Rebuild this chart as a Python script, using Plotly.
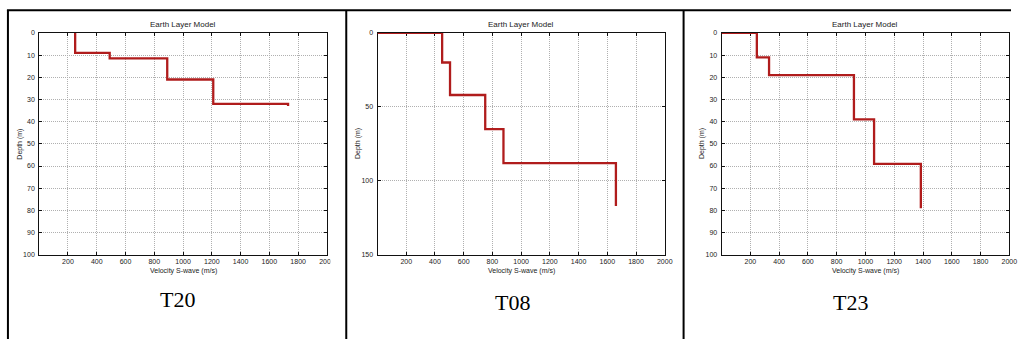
import plotly.graph_objects as go

W, H = 1019, 342

# ---- data ----
t20_velocity = [250, 490, 890, 1210, 1730]
t20_depth = [0, 9, 11.5, 21, 32, 33]
t08_velocity = [450, 505, 750, 877, 1660]
t08_depth = [0, 20, 42, 65, 88, 117]
t23_velocity = [245, 330, 920, 1060, 1385]
t23_depth = [0, 11, 19, 39, 59, 79]
panel_labels = ["T20", "T08", "T23"]
x_ticks = [200, 400, 600, 800, 1000, 1200, 1400, 1600, 1800, 2000]
y_ticks_100 = [0, 10, 20, 30, 40, 50, 60, 70, 80, 90, 100]
y_ticks_150 = [0, 50, 100, 150]


def step_path(vel, dep, start_zero):
    xs, ys = [], []
    if start_zero:
        xs.append(0); ys.append(dep[0])
    for i, v in enumerate(vel):
        xs += [v, v]
        ys += [dep[i], dep[i + 1]]
    return xs, ys


def px(x):
    return x / W


def py(y):
    return 1 - y / H


panels = [
    dict(vel=t20_velocity, dep=t20_depth, x0=39.5, x1=329.5, ymax=100, yt=y_ticks_100, z=False),
    dict(vel=t08_velocity, dep=t08_depth, x0=380.5, x1=670, ymax=150, yt=y_ticks_150, z=True),
    dict(vel=t23_velocity, dep=t23_depth, x0=727.3, x1=1017.3, ymax=100, yt=y_ticks_100, z=True),
]
top, bot = 29.5, 256
label_pos = [(179, 302), (517, 305), (857, 305)]

fig = go.Figure()
ann = []
shapes = []
tickfont = dict(family="Liberation Sans, Arial", size=7, color="#222")
for i, p in enumerate(panels):
    n = "" if i == 0 else str(i + 1)
    xs, ys = step_path(p["vel"], p["dep"], p["z"])
    fig.add_trace(go.Scatter(x=xs, y=ys, mode="lines", line=dict(color="#b01c1c", width=2.3),
                             xaxis="x" + n, yaxis="y" + n, showlegend=False, hoverinfo="skip",
                             cliponaxis=False))
    common = dict(showline=True, linecolor="#111", linewidth=1, mirror="allticks",
                  ticks="inside", ticklen=3, tickcolor="#111", showgrid=True,
                  gridcolor="#b0b0b0", griddash="1px,1px", gridwidth=1, zeroline=False,
                  tickfont=tickfont, layer="below traces")
    fig.update_layout(**{
        "xaxis" + n: dict(domain=[px(p["x0"]), px(p["x1"])], range=[0, 2000],
                          tickvals=x_ticks, anchor="y" + n, **common),
        "yaxis" + n: dict(domain=[py(bot), py(top)], range=[p["ymax"], 0],
                          tickvals=p["yt"], anchor="x" + n, ticklabelstandoff=2, **common),
    })
    cx = (p["x0"] + p["x1"]) / 2
    ann.append(dict(x=px(cx), y=py(21), xref="paper", yref="paper", text="Earth Layer Model",
                    showarrow=False, font=dict(family="Liberation Sans, Arial", size=8, color="#222"),
                    xanchor="center", yanchor="middle"))
    ann.append(dict(x=px(cx), y=py(273), xref="paper", yref="paper", text="Velocity S-wave (m/s)",
                    showarrow=False, font=dict(family="Liberation Sans, Arial", size=7, color="#222"),
                    xanchor="center", yanchor="middle"))
    ann.append(dict(x=px(p["x0"] - 19.5), y=py((top + bot) / 2), xref="paper", yref="paper",
                    text="Depth (m)", textangle=-90, showarrow=False,
                    font=dict(family="Liberation Sans, Arial", size=7, color="#222"),
                    xanchor="center", yanchor="middle"))
    lx, ly = label_pos[i]
    ann.append(dict(x=px(lx), y=py(ly), xref="paper", yref="paper", text=panel_labels[i],
                    showarrow=False, font=dict(family="Liberation Serif, Times New Roman", size=22, color="#000"),
                    xanchor="center", yanchor="middle"))

# clip the first image at the cell edge
shapes.append(dict(type="rect", xref="paper", yref="paper", x0=px(333), x1=px(348), y0=0, y1=1,
                   fillcolor="white", line=dict(width=0), layer="above"))
# table borders
for x in [8, 349, 689]:
    shapes.append(dict(type="line", xref="paper", yref="paper", x0=px(x), x1=px(x), y0=0, y1=py(6),
                       line=dict(color="black", width=2), layer="above"))
shapes.append(dict(type="line", xref="paper", yref="paper", x0=px(7), x1=1, y0=py(6.5), y1=py(6.5),
                   line=dict(color="black", width=2), layer="above"))

fig.update_layout(width=W, height=H, margin=dict(l=0, r=0, t=0, b=0),
                  paper_bgcolor="white", plot_bgcolor="white",
                  annotations=ann, shapes=shapes)
fig.write_html("out.html")
